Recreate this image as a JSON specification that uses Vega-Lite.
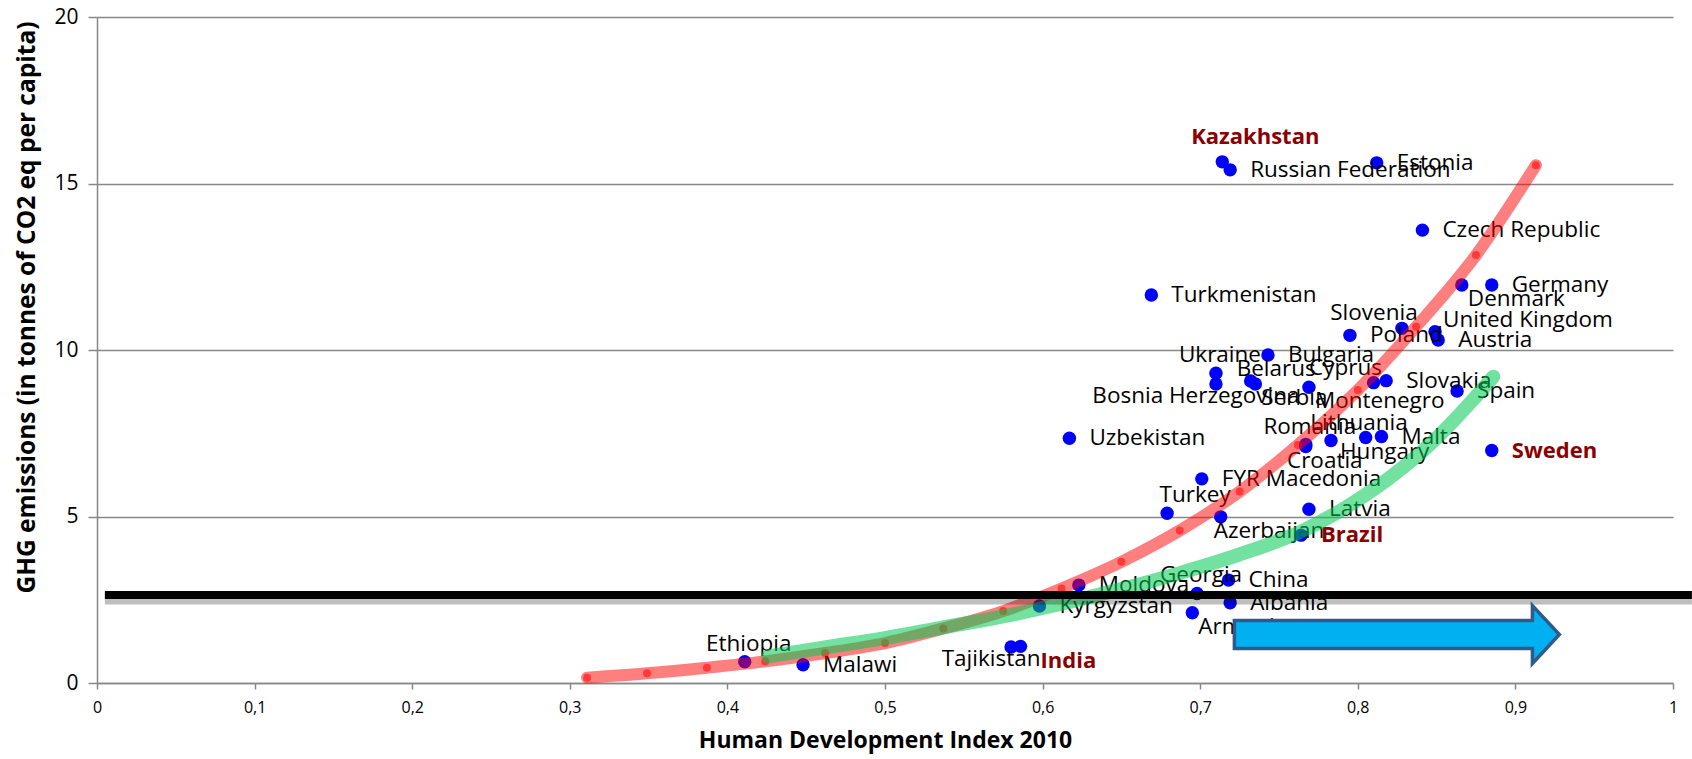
{
  "$schema": "https://vega.github.io/schema/vega-lite/v6.json",
  "width": 1576,
  "height": 666,
  "autosize": {"type": "none"},
  "padding": {"left": 97, "top": 17, "right": 19, "bottom": 76},
  "background": "white",
  "config": {
    "view": {"stroke": null},
    "font": "Open Sans",
    "text": {"font": "Open Sans", "fontSize": 22.5, "baseline": "middle", "color": "#000000"}
  },
  "datasets": {
    "pts": [
      {"country": "Kazakhstan", "hdi": 0.714, "ghg": 15.65, "lpos": "har"},
      {"country": "Russian Federation", "hdi": 0.719, "ghg": 15.41, "lpos": "r"},
      {"country": "Estonia", "hdi": 0.812, "ghg": 15.62, "lpos": "r"},
      {"country": "Czech Republic", "hdi": 0.841, "ghg": 13.6, "lpos": "r"},
      {"country": "Turkmenistan", "hdi": 0.669, "ghg": 11.65, "lpos": "r"},
      {"country": "Germany", "hdi": 0.885, "ghg": 11.95, "lpos": "r"},
      {"country": "Denmark", "hdi": 0.866, "ghg": 11.95, "lpos": "br"},
      {"country": "Slovenia", "hdi": 0.828, "ghg": 10.65, "lpos": "al"},
      {"country": "United Kingdom", "hdi": 0.849, "ghg": 10.55, "lpos": "ur"},
      {"country": "Poland", "hdi": 0.795, "ghg": 10.44, "lpos": "r"},
      {"country": "Austria", "hdi": 0.851, "ghg": 10.3, "lpos": "r"},
      {"country": "Bulgaria", "hdi": 0.743, "ghg": 9.85, "lpos": "r"},
      {"country": "Ukraine", "hdi": 0.71, "ghg": 9.3, "lpos": "a"},
      {"country": "Bosnia Herzegovina", "hdi": 0.71, "ghg": 8.98, "lpos": "bl"},
      {"country": "Belarus", "hdi": 0.732, "ghg": 9.07, "lpos": "ul"},
      {"country": "Serbia", "hdi": 0.735, "ghg": 8.98, "lpos": "br"},
      {"country": "Montenegro", "hdi": 0.769, "ghg": 8.88, "lpos": "br"},
      {"country": "Cyprus", "hdi": 0.81, "ghg": 9.02, "lpos": "al"},
      {"country": "Slovakia", "hdi": 0.818, "ghg": 9.08, "lpos": "r"},
      {"country": "Spain", "hdi": 0.863, "ghg": 8.77, "lpos": "r"},
      {"country": "Romania", "hdi": 0.767, "ghg": 7.16, "lpos": "a"},
      {"country": "Croatia", "hdi": 0.767, "ghg": 7.1, "lpos": "b"},
      {"country": "Lithuania", "hdi": 0.783, "ghg": 7.28, "lpos": "ar"},
      {"country": "Hungary", "hdi": 0.805, "ghg": 7.37, "lpos": "b"},
      {"country": "Malta", "hdi": 0.815, "ghg": 7.4, "lpos": "r"},
      {"country": "Sweden", "hdi": 0.885, "ghg": 6.98, "lpos": "hr"},
      {"country": "Uzbekistan", "hdi": 0.617, "ghg": 7.35, "lpos": "r"},
      {"country": "FYR Macedonia", "hdi": 0.701, "ghg": 6.13, "lpos": "r"},
      {"country": "Turkey", "hdi": 0.679, "ghg": 5.1, "lpos": "ar"},
      {"country": "Azerbaijan", "hdi": 0.713, "ghg": 4.99, "lpos": "bs"},
      {"country": "Latvia", "hdi": 0.769, "ghg": 5.22, "lpos": "r"},
      {"country": "Brazil", "hdi": 0.764, "ghg": 4.44, "lpos": "hr"},
      {"country": "Georgia", "hdi": 0.698, "ghg": 2.69, "lpos": "a"},
      {"country": "China", "hdi": 0.718, "ghg": 3.09, "lpos": "r"},
      {"country": "Moldova", "hdi": 0.623, "ghg": 2.94, "lpos": "r"},
      {"country": "Albania", "hdi": 0.719, "ghg": 2.41, "lpos": "r"},
      {"country": "Kyrgyzstan", "hdi": 0.598, "ghg": 2.31, "lpos": "r"},
      {"country": "Armenia", "hdi": 0.695, "ghg": 2.11, "lpos": "br"},
      {"country": "Tajikistan", "hdi": 0.58, "ghg": 1.08, "lpos": "bl"},
      {"country": "India", "hdi": 0.586, "ghg": 1.1, "lpos": "hbr"},
      {"country": "Ethiopia", "hdi": 0.411, "ghg": 0.64, "lpos": "a"},
      {"country": "Malawi", "hdi": 0.448, "ghg": 0.55, "lpos": "r"}
    ],
    "red": [
      {"hdi": 0.311, "ghg": 0.16}, {"hdi": 0.349, "ghg": 0.29}, {"hdi": 0.387, "ghg": 0.46},
      {"hdi": 0.424, "ghg": 0.65}, {"hdi": 0.462, "ghg": 0.9}, {"hdi": 0.5, "ghg": 1.2},
      {"hdi": 0.537, "ghg": 1.64}, {"hdi": 0.575, "ghg": 2.16}, {"hdi": 0.612, "ghg": 2.84},
      {"hdi": 0.65, "ghg": 3.64}, {"hdi": 0.687, "ghg": 4.58}, {"hdi": 0.725, "ghg": 5.75},
      {"hdi": 0.762, "ghg": 7.15}, {"hdi": 0.8, "ghg": 8.8}, {"hdi": 0.837, "ghg": 10.7},
      {"hdi": 0.875, "ghg": 12.85}, {"hdi": 0.913, "ghg": 15.55}
    ],
    "green": [
      {"hdi": 0.426, "ghg": 0.8}, {"hdi": 0.462, "ghg": 1.07}, {"hdi": 0.5, "ghg": 1.35},
      {"hdi": 0.537, "ghg": 1.67}, {"hdi": 0.575, "ghg": 2.0}, {"hdi": 0.612, "ghg": 2.38},
      {"hdi": 0.65, "ghg": 2.82}, {"hdi": 0.687, "ghg": 3.3}, {"hdi": 0.725, "ghg": 3.86},
      {"hdi": 0.764, "ghg": 4.55}, {"hdi": 0.795, "ghg": 5.35}, {"hdi": 0.828, "ghg": 6.45},
      {"hdi": 0.852, "ghg": 7.45}, {"hdi": 0.872, "ghg": 8.45}, {"hdi": 0.886, "ghg": 9.2}
    ],
    "threshold": [{"ghg": 2.64, "from": 0.005, "to": 1.012}],
    "arrow": [{"hdi": 0.8248, "ghg": 1.456}]
  },
  "encoding": {
    "x": {
      "field": "hdi", "type": "quantitative",
      "scale": {"domain": [0, 1], "nice": false, "zero": false},
      "axis": {
        "title": "Human Development Index 2010",
        "values": [0, 0.1, 0.2, 0.3, 0.4, 0.5, 0.6, 0.7, 0.8, 0.9, 1],
        "labelExpr": "replace(format(datum.value, '.1~f'), '.', ',')",
        "grid": false,
        "domainColor": "#888888", "domainWidth": 1.5,
        "tickColor": "#888888", "tickWidth": 1.5, "tickSize": 6,
        "labelFont": "Open Sans", "labelFontSize": 16, "labelColor": "#000000", "labelPadding": 10,
        "labelFlush": false,
        "titleFont": "Open Sans", "titleFontSize": 23, "titleFontWeight": "bold", "titleColor": "#000000",
        "titlePadding": 14
      }
    },
    "y": {
      "field": "ghg", "type": "quantitative",
      "scale": {"domain": [0, 20], "nice": false},
      "axis": {
        "title": "GHG emissions (in tonnes of CO2 eq per capita)",
        "values": [0, 5, 10, 15, 20],
        "grid": true, "gridColor": "#888888", "gridWidth": 1.5,
        "domainColor": "#888888", "domainWidth": 1.5,
        "tickColor": "#888888", "tickWidth": 1.5, "tickSize": 9,
        "labelFont": "Open Sans", "labelFontSize": 21, "labelColor": "#000000", "labelPadding": 10,
        "labelFlush": false,
        "titleFont": "Open Sans", "titleFontSize": 24.5, "titleFontWeight": "bold", "titleColor": "#000000",
        "titlePadding": 14, "titleY": 290
      }
    }
  },
  "layer": [
    {"data": {"name": "pts"}, "mark": {"type": "circle", "size": 180, "color": "#0000FF", "opacity": 1}},
    {"data": {"name": "pts"}, "transform": [{"filter": "datum.lpos == 'r'"}], "mark": {"type": "text", "align": "left", "dx": 20}, "encoding": {"text": {"field": "country"}}},
    {"data": {"name": "pts"}, "transform": [{"filter": "datum.lpos == 'a'"}], "mark": {"type": "text", "align": "center", "dx": 4, "dy": -18}, "encoding": {"text": {"field": "country"}}},
    {"data": {"name": "pts"}, "transform": [{"filter": "datum.lpos == 'ar'"}], "mark": {"type": "text", "align": "center", "dx": 28, "dy": -18}, "encoding": {"text": {"field": "country"}}},
    {"data": {"name": "pts"}, "transform": [{"filter": "datum.lpos == 'al'"}], "mark": {"type": "text", "align": "center", "dx": -28, "dy": -15}, "encoding": {"text": {"field": "country"}}},
    {"data": {"name": "pts"}, "transform": [{"filter": "datum.lpos == 'b'"}], "mark": {"type": "text", "align": "center", "dx": 19, "dy": 14}, "encoding": {"text": {"field": "country"}}},
    {"data": {"name": "pts"}, "transform": [{"filter": "datum.lpos == 'bl'"}], "mark": {"type": "text", "align": "center", "dx": -20, "dy": 12}, "encoding": {"text": {"field": "country"}}},
    {"data": {"name": "pts"}, "transform": [{"filter": "datum.lpos == 'br'"}], "mark": {"type": "text", "align": "left", "dx": 6, "dy": 14}, "encoding": {"text": {"field": "country"}}},
    {"data": {"name": "pts"}, "transform": [{"filter": "datum.lpos == 'bs'"}], "mark": {"type": "text", "align": "left", "dx": -7, "dy": 14}, "encoding": {"text": {"field": "country"}}},
    {"data": {"name": "pts"}, "transform": [{"filter": "datum.lpos == 'ur'"}], "mark": {"type": "text", "align": "left", "dx": 8, "dy": -12}, "encoding": {"text": {"field": "country"}}},
    {"data": {"name": "pts"}, "transform": [{"filter": "datum.lpos == 'ul'"}], "mark": {"type": "text", "align": "left", "dx": -14, "dy": -12}, "encoding": {"text": {"field": "country"}}},
    {"data": {"name": "pts"}, "transform": [{"filter": "datum.lpos == 'hr'"}], "mark": {"type": "text", "align": "left", "dx": 20, "fontWeight": "bold", "fontSize": 22, "color": "#8B0000"}, "encoding": {"text": {"field": "country"}}},
    {"data": {"name": "pts"}, "transform": [{"filter": "datum.lpos == 'har'"}], "mark": {"type": "text", "align": "center", "dx": 33, "dy": -25, "fontWeight": "bold", "fontSize": 22, "color": "#8B0000"}, "encoding": {"text": {"field": "country"}}},
    {"data": {"name": "pts"}, "transform": [{"filter": "datum.lpos == 'hbr'"}], "mark": {"type": "text", "align": "left", "dx": 20, "dy": 15, "fontWeight": "bold", "fontSize": 22, "color": "#8B0000"}, "encoding": {"text": {"field": "country"}}},
    {"data": {"name": "red"}, "mark": {"type": "line", "color": "#FF0000", "opacity": 0.5, "strokeWidth": 12, "strokeCap": "round", "interpolate": "monotone"}, "encoding": {}},
    {"data": {"name": "red"}, "mark": {"type": "circle", "color": "#FF0000", "opacity": 0.55, "size": 64}},
    {"data": {"name": "green"}, "mark": {"type": "line", "color": "#00C850", "opacity": 0.55, "strokeWidth": 14, "strokeCap": "round", "interpolate": "monotone"}, "encoding": {}},
    {"data": {"name": "threshold"}, "mark": {"type": "rule", "color": "#000000", "opacity": 0.25, "strokeWidth": 9, "yOffset": 5}, "encoding": {"x": {"field": "from", "type": "quantitative"}, "x2": {"field": "to"}, "y": {"field": "ghg", "type": "quantitative"}}},
    {"data": {"name": "threshold"}, "mark": {"type": "rule", "color": "#000000", "strokeWidth": 8}, "encoding": {"x": {"field": "from", "type": "quantitative"}, "x2": {"field": "to"}, "y": {"field": "ghg", "type": "quantitative"}}},
    {"data": {"name": "arrow"}, "mark": {"type": "point", "filled": true, "shape": "M-1,-0.086L0.834,-0.086L0.834,-0.178L1,0L0.834,0.178L0.834,0.086L-1,0.086Z", "size": 105625, "fill": "#00B0F0", "fillOpacity": 1, "stroke": "#2F5B8C", "strokeWidth": 3.5, "opacity": 1}}
  ]
}
